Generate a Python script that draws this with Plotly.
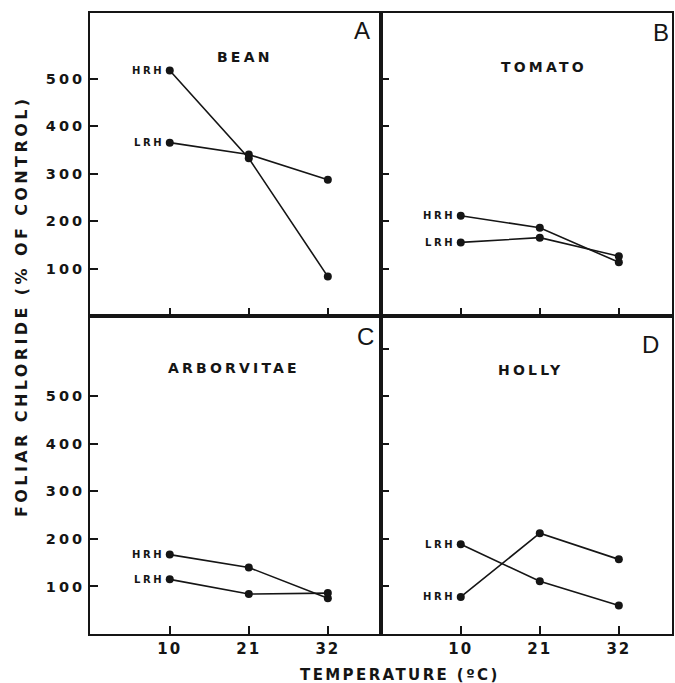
import plotly.graph_objects as go

# ---- data ----
temps = [10, 21, 32]
temp_labels = ["10", "21", "32"]
panel_letters = ["A", "B", "C", "D"]
species = ["BEAN", "TOMATO", "ARBORVITAE", "HOLLY"]
bean_hrh = [517, 332, 83]
bean_lrh = [365, 340, 287]
tomato_hrh = [211, 186, 113]
tomato_lrh = [155, 165, 126]
arbor_hrh = [167, 140, 75]
arbor_lrh = [115, 84, 86]
holly_hrh = [78, 212, 157]
holly_lrh = [189, 111, 60]
y_ticks_top = [100, 200, 300, 400, 500]
y_ticks_bottom_left = [100, 200, 300, 400, 500]
y_ticks_bottom_right = [100, 200, 300, 400, 500, 600]
y_title = "FOLIAR CHLORIDE (% OF CONTROL)"
x_title = "TEMPERATURE (ºC)"

W, H = 675, 683
FONT = "DejaVu Sans"
LETTER_FONT = "Liberation Sans"
INK = "#151515"


def sp(text, s):
    return f'<span style="letter-spacing:{s}px">{text}</span>'


def px(x):
    return x / W


def py(y):
    return 1 - y / H


# layout geometry (pixels)
col_x = [(90, 381), (381, 672)]
row_y = [(13, 316), (316, 634)]
ranges_y = [[0, 638], [0, 669]]
range_x = [-1.1, 39.4]

series = [
    (bean_hrh, bean_lrh),
    (tomato_hrh, tomato_lrh),
    (arbor_hrh, arbor_lrh),
    (holly_hrh, holly_lrh),
]
yticks = [y_ticks_top, y_ticks_top, y_ticks_bottom_left, y_ticks_bottom_right]
letter_pos = [(362, 31), (661, 32), (365, 336), (650, 344)]
species_pos = [(245, 57), (544, 67), (234, 368), (530, 370)]

fig = go.Figure()
annotations = []

for i in range(4):
    r, c = divmod(i, 2)
    n = i + 1
    xa = "x" if n == 1 else f"x{n}"
    ya = "y" if n == 1 else f"y{n}"
    hrh, lrh = series[i]
    for vals in (hrh, lrh):
        fig.add_trace(go.Scatter(
            x=temps, y=vals, mode="lines+markers",
            line=dict(color=INK, width=1.6),
            marker=dict(color=INK, size=8),
            xaxis=xa, yaxis=ya, showlegend=False, hoverinfo="skip",
        ))
    for name, vals in (("HRH", hrh), ("LRH", lrh)):
        annotations.append(dict(
            xref=xa, yref=ya, x=temps[0], y=vals[0], text=sp(name, 2.6),
            showarrow=False, xanchor="right", yanchor="middle", xshift=-4,
            font=dict(family=FONT, size=10, color=INK, weight="bold"),
        ))
    lx, ly = letter_pos[i]
    annotations.append(dict(
        xref="paper", yref="paper", x=px(lx), y=py(ly), text=panel_letters[i],
        showarrow=False, xanchor="center", yanchor="middle",
        font=dict(family=LETTER_FONT, size=24, color=INK),
    ))
    sx, sy = species_pos[i]
    annotations.append(dict(
        xref="paper", yref="paper", x=px(sx), y=py(sy), text=sp(species[i], 3.2),
        showarrow=False, xanchor="center", yanchor="middle",
        font=dict(family=FONT, size=14, color=INK, weight="bold"),
    ))

    x0, x1 = col_x[c]
    y0, y1 = row_y[r]
    xaxis = dict(
        domain=[px(x0), px(x1)], range=range_x,
        tickmode="array", tickvals=temps,
        ticktext=[sp(t, 2) for t in temp_labels],
        showticklabels=(r == 1), ticks="inside", ticklen=8, tickwidth=1.6,
        tickcolor=INK, showline=True, linewidth=2, linecolor=INK, mirror=True,
        showgrid=False, zeroline=False, anchor=ya, fixedrange=True,
        tickfont=dict(family=FONT, size=15, color=INK, weight="bold"),
    )
    yaxis = dict(
        domain=[py(y1), py(y0)], range=ranges_y[r],
        tickmode="array", tickvals=yticks[i],
        ticktext=[sp(str(v), 3) for v in yticks[i]],
        showticklabels=(c == 0), ticks="inside",
        ticklen=8, tickwidth=1.6, tickcolor=INK,
        showline=True, linewidth=2, linecolor=INK, mirror=True,
        showgrid=False, zeroline=False, anchor=xa, fixedrange=True,
        tickfont=dict(family=FONT, size=14.5, color=INK, weight="bold"),
    )
    fig.layout["xaxis" if n == 1 else f"xaxis{n}"] = xaxis
    fig.layout["yaxis" if n == 1 else f"yaxis{n}"] = yaxis

annotations.append(dict(
    xref="paper", yref="paper", x=px(21), y=py(307), text=sp(y_title, 3.4),
    textangle=-90, showarrow=False, xanchor="center", yanchor="middle",
    font=dict(family=FONT, size=16, color=INK, weight="bold"),
))
annotations.append(dict(
    xref="paper", yref="paper", x=px(400), y=py(675), text=sp(x_title, 2.4),
    showarrow=False, xanchor="center", yanchor="middle",
    font=dict(family=FONT, size=15, color=INK, weight="bold"),
))

fig.update_layout(
    width=W, height=H, margin=dict(l=0, r=0, t=0, b=0),
    paper_bgcolor="white", plot_bgcolor="white",
    annotations=annotations, showlegend=False,
)

fig.write_html(
    "out.html",
    config={"displayModeBar": False},
    post_script="document.body.style.margin='0';document.body.style.padding='0';",
)
